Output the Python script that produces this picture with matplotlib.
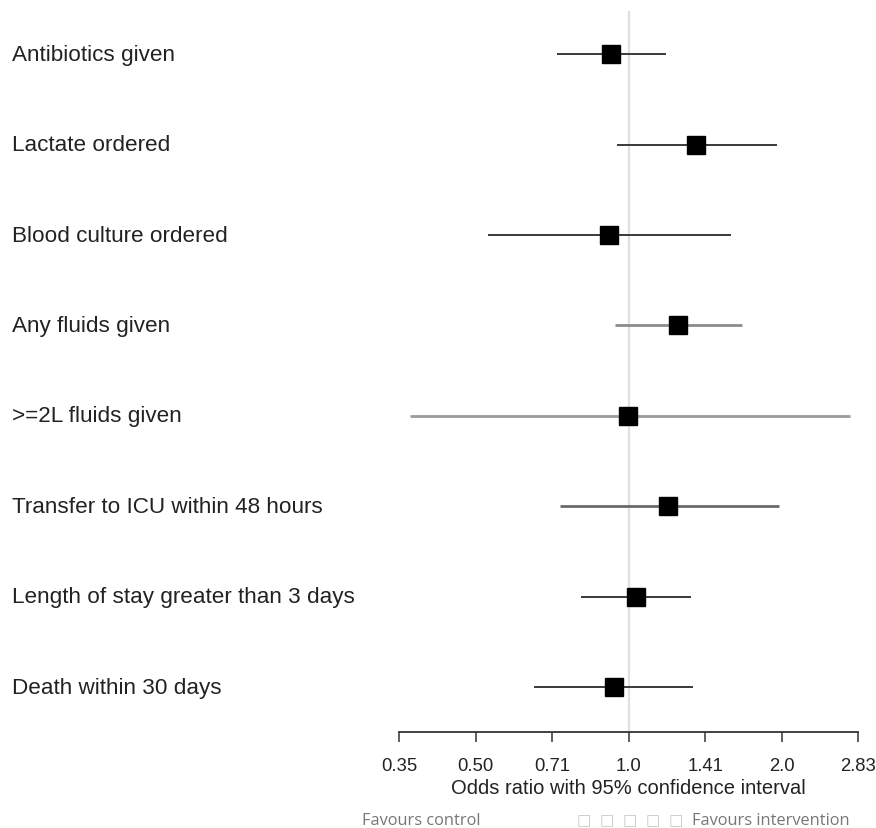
import numpy as np
import matplotlib
matplotlib.use("Agg")
import matplotlib.pyplot as plt
from matplotlib.transforms import blended_transform_factory

# outcomes, top to bottom
outcomes = [
    "Antibiotics given",
    "Lactate ordered",
    "Blood culture ordered",
    "Any fluids given",
    ">=2L fluids given",
    "Transfer to ICU within 48 hours",
    "Length of stay greater than 3 days",
    "Death within 30 days",
]
odds_ratio = [0.925, 1.358, 0.915, 1.250, 0.995, 1.194, 1.033, 0.934]
ci_low = [0.722, 0.948, 0.530, 0.939, 0.372, 0.733, 0.807, 0.651]
ci_high = [1.185, 1.960, 1.591, 1.670, 2.728, 1.971, 1.326, 1.341]
line_colors = ["#3a3a3a", "#3a3a3a", "#3a3a3a", "#8c8c8c", "#9a9a9a",
               "#6a6a6a", "#3a3a3a", "#3a3a3a"]

tick_vals = [2 ** -1.5, 2 ** -1.0, 2 ** -0.5, 1.0, 2 ** 0.5, 2.0, 2 ** 1.5]
tick_labels = ["0.35", "0.50", "0.71", "1.0", "1.41", "2.0", "2.83"]

plt.rcParams["font.family"] = ["Liberation Sans", "DejaVu Sans"]

W, H = 876, 829
fig = plt.figure(figsize=(W / 100, H / 100), dpi=100)
left, right = 399 / W, 858.3 / W
bottom, top = 1 - 733 / H, 1 - 12 / H
ax = fig.add_axes([left, bottom, right - left, top - bottom])

ax.set_xscale("log", base=2)
ax.set_xlim(tick_vals[0], tick_vals[-1])
ax.set_ylim(7.497, -0.479)

ax.axvline(1.0, color="#e0e0e0", lw=1.6, zorder=0)

ypos = np.arange(len(outcomes))
for i in range(len(outcomes)):
    lw = 2.0 if line_colors[i] != "#3a3a3a" else 1.4
    ax.plot([ci_low[i], ci_high[i]], [ypos[i], ypos[i]], color=line_colors[i],
            lw=lw, zorder=1, solid_capstyle="butt")
ax.plot(odds_ratio, ypos, "s", color="black", markersize=13.5, zorder=2, ls="none")

for s in ["top", "right", "left"]:
    ax.spines[s].set_visible(False)
ax.spines["bottom"].set_color("#333333")
ax.spines["bottom"].set_linewidth(1.3)
ax.set_yticks([])
ax.set_xticks(tick_vals)
ax.set_xticklabels(tick_labels)
ax.minorticks_off()
ax.tick_params(axis="x", direction="out", length=7.5, width=1.2, color="#444444",
               labelsize=13.3, labelcolor="#222222", pad=10.5)
ax.set_xlabel("Odds ratio with 95% confidence interval", fontsize=14.5,
              color="#222222", labelpad=3)

trans = blended_transform_factory(fig.transFigure, ax.transData)
for i, name in enumerate(outcomes):
    ax.text(12 / W, ypos[i], name, transform=trans, ha="left", va="center",
            fontsize=16.2, color="#222222", clip_on=False)

# footer (Open Sans, grey)
fy = 1 - 821 / H
fig.text(362 / W, fy, "Favours control", fontsize=11.8, color="#777777",
         family=["Open Sans", "DejaVu Sans"], va="center", ha="left")
for k in range(5):
    fig.text((584 + 23 * k) / W, fy, "\u25a1", fontsize=11, color="#c8c8c8",
             family=["DejaVu Sans"], va="center", ha="center")
fig.text(692 / W, fy, "Favours intervention", fontsize=11.8, color="#777777",
         family=["Open Sans", "DejaVu Sans"], va="center", ha="left")

fig.savefig("out.png", dpi=100, facecolor="white")
